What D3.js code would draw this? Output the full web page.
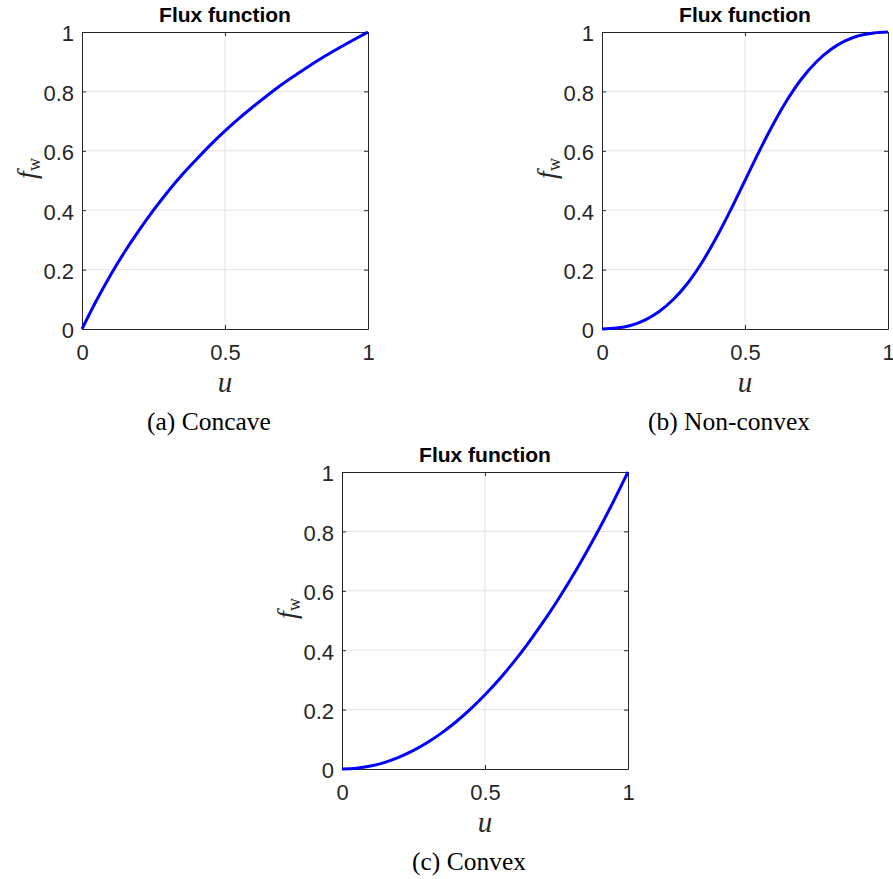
<!DOCTYPE html>
<html>
<head>
<meta charset="utf-8">
<script src="https://cdn.jsdelivr.net/npm/d3@7"></script>
<style>
  body { margin: 0; background: #fff; }
  svg { display: block; }
</style>
</head>
<body>
<svg id="fig" width="893" height="879"></svg>
<script>
// sample points along u
const uValues = [0, 0.05, 0.1, 0.15, 0.2, 0.25, 0.3, 0.35, 0.4, 0.45, 0.5,
                 0.55, 0.6, 0.65, 0.7, 0.75, 0.8, 0.85, 0.9, 0.95, 1];

const concaveF = [0, 0.095, 0.182, 0.261, 0.333, 0.4, 0.462, 0.519, 0.571, 0.621, 0.667,
                  0.71, 0.75, 0.788, 0.824, 0.857, 0.889, 0.919, 0.947, 0.974, 1];

const nonConvexF = [0, 0.003, 0.012, 0.03, 0.059, 0.1, 0.155, 0.225, 0.308, 0.401, 0.5,
                    0.599, 0.692, 0.775, 0.845, 0.9, 0.941, 0.97, 0.988, 0.997, 1];

const convexF = [0, 0.0025, 0.01, 0.0225, 0.04, 0.0625, 0.09, 0.1225, 0.16, 0.2025, 0.25,
                 0.3025, 0.36, 0.4225, 0.49, 0.5625, 0.64, 0.7225, 0.81, 0.9025, 1];

const xTicks = [0, 0.5, 1];
const yTicks = [0, 0.2, 0.4, 0.6, 0.8, 1];
const titleText = 'Flux function';
const captions = ['(a) Concave', '(b) Non-convex', '(c) Convex'];

const svg = d3.select('#fig');
const sans = '"Liberation Sans", Arial, sans-serif';
const serif = '"Liberation Serif", "Times New Roman", serif';

function drawPanel(left, top, yVals, caption) {
    const width = 286;
    const height = 297;

    const g = svg.append('g')
        .attr('transform', `translate(${left}, ${top})`);

    const x = d3.scaleLinear().domain([0, 1]).range([0, width]);
    const y = d3.scaleLinear().domain([0, 1]).range([height, 0]);

    // grid
    g.append('g')
        .selectAll('line')
        .data(xTicks.slice(1, -1))
        .enter()
        .append('line')
        .attr('x1', (d) => x(d)).attr('x2', (d) => x(d))
        .attr('y1', 0).attr('y2', height)
        .attr('stroke', '#e3e3e3').attr('stroke-width', 1);

    g.append('g')
        .selectAll('line')
        .data(yTicks.slice(1, -1))
        .enter()
        .append('line')
        .attr('x1', 0).attr('x2', width)
        .attr('y1', (d) => y(d)).attr('y2', (d) => y(d))
        .attr('stroke', '#e3e3e3').attr('stroke-width', 1);

    // axes, ticks pointing in like matlab
    const xAxis = g.append('g')
        .attr('transform', `translate(0, ${height})`)
        .call(d3.axisBottom(x).tickValues(xTicks).tickFormat(d3.format('')).tickSizeInner(-4).tickSizeOuter(0).tickPadding(15));
    xAxis.selectAll('text').attr('dy', '0.71em');

    g.append('g')
        .call(d3.axisTop(x).tickValues(xTicks).tickFormat('').tickSizeInner(-4).tickSizeOuter(0));

    const yAxis = g.append('g')
        .call(d3.axisLeft(y).tickValues(yTicks).tickFormat(d3.format('')).tickSizeInner(-4).tickSizeOuter(0).tickPadding(8));
    yAxis.selectAll('text').attr('dy', '0.4em');

    g.append('g')
        .attr('transform', `translate(${width}, 0)`)
        .call(d3.axisRight(y).tickValues(yTicks).tickFormat('').tickSizeInner(-4).tickSizeOuter(0));

    g.selectAll('.domain').attr('stroke', '#262626');
    g.selectAll('.tick line').attr('stroke', '#262626');
    g.selectAll('.tick text')
        .style('font-family', sans)
        .style('font-size', '22px')
        .style('fill', '#262626');

    // curve
    const line = d3.line()
        .x((d) => x(d[0]))
        .y((d) => y(d[1]))
        .curve(d3.curveMonotoneX);

    g.append('path')
        .datum(uValues.map((u, i) => [u, yVals[i]]))
        .attr('d', line)
        .attr('fill', 'none')
        .attr('stroke', '#0000ff')
        .attr('stroke-width', 3);

    // title
    g.append('text')
        .attr('x', width / 2)
        .attr('y', -10)
        .attr('text-anchor', 'middle')
        .style('font-family', sans)
        .style('font-weight', 'bold')
        .style('font-size', '21px')
        .style('fill', '#000')
        .text(titleText);

    // x label
    g.append('text')
        .attr('x', width / 2)
        .attr('y', height + 63)
        .attr('text-anchor', 'middle')
        .style('font-family', serif)
        .style('font-style', 'italic')
        .style('font-size', '29px')
        .style('fill', '#262626')
        .text('u');

    // y label f_w
    const yl = g.append('text')
        .attr('transform', `translate(-46, ${height / 2 - 12}) rotate(-90)`)
        .attr('text-anchor', 'middle')
        .style('font-family', serif)
        .style('font-size', '28px')
        .style('fill', '#262626');
    yl.append('tspan').style('font-style', 'italic').text('f');
    yl.append('tspan').attr('dy', 4).style('font-size', '18px').text('w');

    // caption
    g.append('text')
        .attr('x', width / 2 - 16)
        .attr('y', height + 101)
        .attr('text-anchor', 'middle')
        .style('font-family', serif)
        .style('font-size', '25.5px')
        .style('fill', '#000')
        .text(caption);
}

drawPanel(82, 32, concaveF, captions[0]);
drawPanel(602, 32, nonConvexF, captions[1]);
drawPanel(342, 472, convexF, captions[2]);
</script>
</body>
</html>
